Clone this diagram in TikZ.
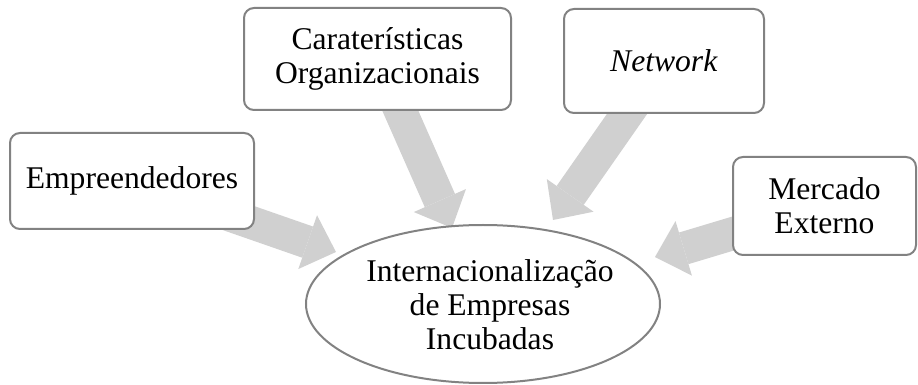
\documentclass[tikz,border=0pt]{standalone}
\usepackage{fontspec}
\setmainfont{Liberation Serif}
\usetikzlibrary{arrows.meta,shapes.geometric,backgrounds}
\definecolor{arrowgray}{RGB}{208,208,208}
\definecolor{bordergray}{RGB}{130,130,130}
\begin{document}
\begin{tikzpicture}[x=0.5pt,y=-0.5pt,
  every node/.style={font=\fontsize{15.8}{17}\selectfont, align=center, inner sep=0pt},
  boxnode/.style={draw=bordergray, line width=1pt, fill=white, rounded corners=5pt},
  ellnode/.style={ellipse, draw=bordergray, line width=1pt, fill=white},
  blockarrow/.style={draw=arrowgray, line width=16.5pt,
    -{Triangle[length=15pt,width=28.5pt,line width=0pt]}}]
\useasboundingbox (0,0) rectangle (918,385);
\node[boxnode, minimum width=122pt, minimum height=48pt] (emp) at (132,181) {Empreendedores};
\node[boxnode, minimum width=133.5pt, minimum height=51pt] (car) at (377.5,59) {Caraterísticas\\Organizacionais};
\node[boxnode, minimum width=100pt, minimum height=52pt] (net) at (664,61) {\textit{Network}};
\node[boxnode, minimum width=91.5pt, minimum height=49pt] (mer) at (824.5,206) {Mercado\\Externo};
\node[ellnode, minimum width=177pt, minimum height=79pt] (ell) at (483,304) {};
\node (elltxt) at (490,305) {Internacionalização\\de Empresas\\Incubadas};
\coordinate (t1) at (336,252);
\coordinate (t2) at (452,228);
\coordinate (t3) at (553,220);
\coordinate (t4) at (655,257);
\begin{scope}[on background layer]
\draw[blockarrow] (emp.center) -- (t1);
\draw[blockarrow] (car.center) -- (t2);
\draw[blockarrow] (net.center) -- (t3);
\draw[blockarrow] (mer.center) -- (t4);
\end{scope}
\end{tikzpicture}
\end{document}
